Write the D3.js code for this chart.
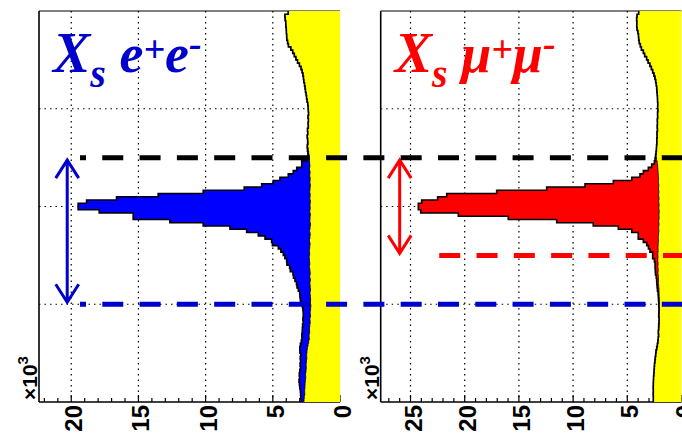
<!DOCTYPE html>
<html>
<head>
<meta charset="utf-8">
<script src="https://cdn.jsdelivr.net/npm/d3@7"></script>
<style>
  body { margin: 0; background: #fff; }
  svg { display: block; }
</style>
</head>
<body>
<svg id="chart" width="682" height="436"></svg>
<script>
// 120 bins along the (unlabelled) vertical axis, counts in units of 10^3
const bkgEE = [
  3.85, 4.10, 4.08, 4.04, 4.03, 4.00, 3.99, 3.97, 3.96, 3.90,
  3.84, 3.66, 3.52, 3.40, 3.28, 3.16, 3.02, 2.90, 2.82, 2.76,
  2.72, 2.69, 2.64, 2.60, 2.57, 2.52, 2.49, 2.45, 2.40, 2.37,
  2.36, 2.34, 2.38, 2.35, 2.37, 2.36, 2.42, 2.40, 2.44, 2.41,
  2.38, 2.41, 2.37, 2.33, 2.30, 2.28, 2.26, 2.24, 2.27, 2.23,
  2.25, 2.22, 2.24, 2.21, 2.23, 2.25, 2.22, 2.24, 2.21, 2.23,
  2.22, 2.25, 2.21, 2.23, 2.24, 2.20, 2.23, 2.26, 2.22, 2.24,
  2.27, 2.23, 2.25, 2.28, 2.26, 2.29, 2.27, 2.25, 2.28, 2.24,
  2.22, 2.25, 2.21, 2.24, 2.22, 2.20, 2.23, 2.21, 2.19, 2.20,
  2.17, 2.19, 2.22, 2.20, 2.24, 2.22, 2.25, 2.27, 2.26, 2.30,
  2.29, 2.33, 2.38, 2.43, 2.46, 2.48, 2.47, 2.50, 2.52, 2.51,
  2.53, 2.56, 2.55, 2.58, 2.60, 2.61, 2.63, 2.62, 2.66, 2.68
];
const sigEE = [
  0, 0, 0, 0, 0, 0, 0, 0, 0, 0,
  0, 0, 0, 0, 0, 0, 0, 0, 0, 0,
  0, 0, 0, 0, 0, 0, 0, 0, 0, 0,
  0, 0, 0, 0, 0, 0, 0, 0, 0, 0,
  0.02, 0.03, 0.05, 0.06, 0.08, 0.20, 0.59, 0.61, 0.95, 1.25,
  1.60, 2.25, 2.73, 3.62, 4.90, 7.93, 11.31, 14.39, 16.65, 17.26,
  17.27, 15.67, 13.18, 13.16, 10.42, 7.98, 5.96, 4.69, 3.86, 3.34,
  2.82, 2.80, 2.34, 2.12, 1.96, 1.81, 1.70, 1.70, 1.47, 1.46,
  1.28, 1.21, 1.14, 1.00, 0.98, 0.90, 0.77, 0.77, 0.76, 0.70,
  0.63, 0.57, 0.52, 0.53, 0.52, 0.52, 0.53, 0.53, 0.55, 0.54,
  0.54, 0.55, 0.57, 0.56, 0.52, 0.44, 0.49, 0.43, 0.45, 0.43,
  0.46, 0.47, 0.46, 0.47, 0.42, 0.38, 0.32, 0.31, 0.26, 0.22
];
const bkgMM = [
  3.95, 4.10, 4.14, 4.12, 4.13, 4.10, 4.02, 3.97, 3.95, 3.90,
  3.80, 3.70, 3.52, 3.40, 3.22, 3.08, 2.92, 2.78, 2.66, 2.54,
  2.45, 2.38, 2.33, 2.29, 2.27, 2.24, 2.22, 2.21, 2.19, 2.20,
  2.18, 2.21, 2.20, 2.23, 2.22, 2.24, 2.22, 2.26, 2.25, 2.28,
  2.27, 2.30, 2.31, 2.33, 2.35, 2.30, 2.24, 2.20, 2.18, 2.16,
  2.14, 2.12, 2.13, 2.10, 2.12, 2.09, 2.11, 2.08, 2.10, 2.07,
  2.09, 2.06, 2.08, 2.07, 2.10, 2.08, 2.11, 2.09, 2.12, 2.14,
  2.13, 2.15, 2.17, 2.16, 2.18, 2.17, 2.19, 2.16, 2.18, 2.15,
  2.17, 2.14, 2.12, 2.13, 2.10, 2.08, 2.07, 2.06, 2.05, 2.04,
  2.05, 2.03, 2.05, 2.06, 2.04, 2.05, 2.07, 2.09, 2.12, 2.10,
  2.14, 2.17, 2.22, 2.28, 2.34, 2.38, 2.42, 2.45, 2.49, 2.51,
  2.53, 2.55, 2.58, 2.59, 2.60, 2.61, 2.60, 2.61, 2.60, 2.60
];
const sigMM = [
  0, 0, 0, 0, 0, 0, 0, 0, 0, 0,
  0, 0, 0, 0, 0, 0, 0, 0, 0, 0,
  0, 0, 0, 0, 0, 0, 0, 0, 0, 0,
  0, 0, 0, 0, 0, 0, 0, 0, 0, 0,
  0, 0, 0.01, 0.02, 0.04, 0.14, 0.26, 0.55, 0.88, 1.36,
  1.69, 2.47, 4.16, 6.80, 10.32, 14.96, 19.55, 20.42, 21.87, 22.21,
  22.19, 22.00, 18.51, 13.91, 9.41, 6.06, 3.72, 2.50, 1.87, 1.85,
  1.39, 1.06, 0.88, 0.75, 0.48, 0.49, 0.31, 0.28, 0.26, 0.27,
  0.23, 0.19, 0.17, 0.14, 0.15, 0.14, 0.09, 0.08, 0.07, 0.06,
  0.05, 0.05, 0.04, 0.04, 0.03, 0.03, 0.03, 0.02, 0.02, 0.02,
  0.01, 0.01, 0.01, 0.01, 0.01, 0, 0, 0, 0, 0,
  0, 0, 0, 0, 0, 0, 0, 0, 0, 0
];
const ticksEE = [0, 5, 10, 15, 20];
const ticksMM = [0, 5, 10, 15, 20, 25];
const gridBins = [30, 60, 90];
const nBins = 120;
// cut positions (in bins)
const cutUpper = 45;
const cutLowerEE = 90;
const cutLowerMM = 75;

const svg = d3.select("#chart");
const yTop = 11, yBottom = 402;
const y = d3.scaleLinear().domain([0, nBins]).range([yTop, yBottom]);

const panels = [
  { x0: 39, x1: 340, max: 22.4, bkg: bkgEE, sig: sigEE, ticks: ticksEE,
    fill: "#0000ff", dark: "#0000cc", arrowAt: 20.3, arrowTo: cutLowerEE,
    title: ["X", "s", "e", "+", "e", "-"] },
  { x0: 380.7, x1: 681.5, max: 27.75, bkg: bkgMM, sig: sigMM, ticks: ticksMM,
    fill: "#ff0000", dark: "#ff0000", arrowAt: 26.0, arrowTo: cutLowerMM,
    title: ["X", "s", "\u03bc", "+", "\u03bc", "-"] }
];

panels.forEach(p => {
  const x = d3.scaleLinear().domain([p.max, 0]).range([p.x0, p.x1]);
  p.x = x;
  const g = svg.append("g");

  // grid
  g.selectAll(".vgrid").data(p.ticks.filter(t => t > 0)).enter().append("line")
    .attr("x1", d => x(d)).attr("x2", d => x(d))
    .attr("y1", yTop).attr("y2", yBottom)
    .attr("stroke", "#000").attr("stroke-width", 1.2).attr("stroke-dasharray", "1.5 4");
  g.selectAll(".hgrid").data(gridBins).enter().append("line")
    .attr("x1", p.x0).attr("x2", p.x1)
    .attr("y1", d => y(d)).attr("y2", d => y(d))
    .attr("stroke", "#000").attr("stroke-width", 1.2).attr("stroke-dasharray", "1.5 4");

  // frame + minor ticks
  g.append("line").attr("x1", p.x0).attr("x2", p.x1).attr("y1", yTop).attr("y2", yTop)
    .attr("stroke", "#000").attr("stroke-width", 1);
  g.append("line").attr("x1", p.x0).attr("x2", p.x0).attr("y1", yTop).attr("y2", yBottom)
    .attr("stroke", "#000").attr("stroke-width", 1.6);
  g.append("line").attr("x1", p.x0).attr("x2", p.x1).attr("y1", yBottom).attr("y2", yBottom)
    .attr("stroke", "#000").attr("stroke-width", 1.6);
  g.selectAll(".mtick").data(d3.range(0, Math.floor(p.max) + 1)).enter().append("line")
    .attr("x1", d => x(d)).attr("x2", d => x(d))
    .attr("y1", yBottom).attr("y2", d => yBottom - (d % 5 === 0 ? 7 : 4))
    .attr("stroke", "#000").attr("stroke-width", 1.2);

  // histograms
  const pts = [];
  p.bkg.forEach((b, i) => {
    const tot = b + p.sig[i];
    pts.push({ e: i, b: b, t: tot }, { e: i + 1, b: b, t: tot });
  });
  g.append("path").datum(pts)
    .attr("d", d3.area().y(d => y(d.e)).x0(x(0)).x1(d => x(d.b)))
    .attr("fill", "#ffff00");
  g.append("path").datum(pts)
    .attr("d", d3.area().y(d => y(d.e)).x0(d => x(d.b)).x1(d => x(d.t)))
    .attr("fill", p.fill);
  g.append("path").datum(pts)
    .attr("d", d3.line().y(d => y(d.e)).x(d => x(d.b)))
    .attr("fill", "none").attr("stroke", "#000").attr("stroke-width", 0.8);
  g.append("path").datum(pts)
    .attr("d", d3.line().y(d => y(d.e)).x(d => x(d.t)))
    .attr("fill", "none").attr("stroke", "#000").attr("stroke-width", 1.6);

  // tick labels
  g.selectAll(".tl").data(p.ticks).enter().append("text")
    .attr("transform", d => `translate(${x(d) + 11},405) rotate(-90)`)
    .attr("text-anchor", "end")
    .attr("font-family", "'Liberation Sans', Arial, sans-serif")
    .attr("font-weight", "bold").attr("font-size", 24)
    .text(d => d);

  // x10^3
  const mult = g.append("text")
    .attr("transform", `translate(${p.x0 - 2},400) rotate(-90)`)
    .attr("font-family", "'Liberation Sans', Arial, sans-serif")
    .attr("font-weight", "bold").attr("font-size", 21);
  mult.append("tspan").text("\u00d710");
  mult.append("tspan").attr("font-size", 15).attr("dy", -9).text("3");

  // arrow
  const ax = x(p.arrowAt), ya = y(cutUpper) + 2.5, yb = y(p.arrowTo) - 2;
  const arrow = d3.path();
  arrow.moveTo(ax, ya); arrow.lineTo(ax, yb);
  arrow.moveTo(ax - 11.5, ya + 18); arrow.lineTo(ax, ya); arrow.lineTo(ax + 11.5, ya + 18);
  arrow.moveTo(ax - 11.5, yb - 18); arrow.lineTo(ax, yb); arrow.lineTo(ax + 11.5, yb - 18);
  g.append("path").attr("d", arrow.toString())
    .attr("fill", "none").attr("stroke", p.dark).attr("stroke-width", 3);

  // title
  const t = p.title;
  const title = g.append("text")
    .attr("x", p.x0 + 14).attr("y", 72)
    .attr("fill", p.dark)
    .attr("font-family", "'Liberation Serif', 'Times New Roman', serif")
    .attr("font-weight", "bold").attr("font-style", "italic").attr("font-size", 56);
  title.append("tspan").text(t[0]);
  title.append("tspan").attr("font-size", 40).attr("dy", 15).text(t[1]);
  title.append("tspan").attr("font-size", 54).attr("dy", -15).text(" " + t[2]);
  title.append("tspan").attr("font-size", 38).attr("dy", -10).text(t[3]);
  title.append("tspan").attr("font-size", 54).attr("dy", 10).text(t[4]);
  title.append("tspan").attr("font-size", 38).attr("dy", -16).text(t[5]);
});

// cut lines across both panels
const L = panels[0], R = panels[1];
const dash = "21 16.3";
svg.append("line")
  .attr("x1", L.x(19.35)).attr("x2", 682).attr("y1", y(cutUpper)).attr("y2", y(cutUpper))
  .attr("stroke", "#000").attr("stroke-width", 5)
  .attr("stroke-dasharray", dash).attr("stroke-dashoffset", 15);
svg.append("line")
  .attr("x1", L.x(19.35)).attr("x2", 682).attr("y1", y(cutLowerEE)).attr("y2", y(cutLowerEE))
  .attr("stroke", "#0000cc").attr("stroke-width", 5)
  .attr("stroke-dasharray", dash).attr("stroke-dashoffset", 15);
svg.append("line")
  .attr("x1", R.x(22.35)).attr("x2", 682).attr("y1", y(cutLowerMM)).attr("y2", y(cutLowerMM))
  .attr("stroke", "#ff0000").attr("stroke-width", 5)
  .attr("stroke-dasharray", dash);
</script>
</body>
</html>
